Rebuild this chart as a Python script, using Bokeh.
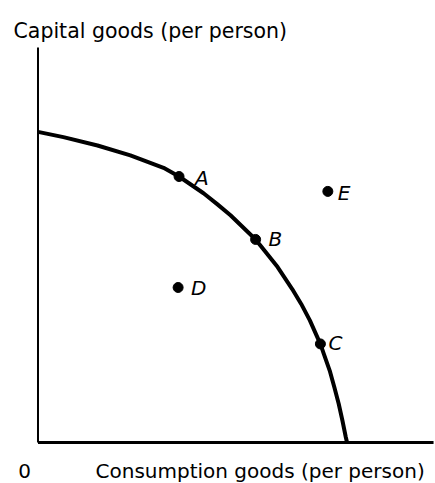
from bokeh.plotting import figure
from bokeh.models import Range1d, ColumnDataSource
from bokeh.core.properties import value
from bokeh.embed import file_html
from bokeh.resources import INLINE

# PPF curve points (consumption, capital)
curve_x = [0.0, 0.82, 1.92, 2.98, 4.05, 4.55, 5.34, 5.78, 6.21, 7.02, 7.73, 8.20, 8.49, 8.77,
           9.01, 9.11, 9.22, 9.41, 9.56, 9.70, 9.82, 9.93, 9.97]
curve_y = [10.02, 9.85, 9.58, 9.26, 8.86, 8.58, 8.04, 7.69, 7.33, 6.55, 5.66, 4.95, 4.47, 3.94,
           3.40, 3.18, 2.86, 2.32, 1.78, 1.25, 0.71, 0.17, 0.0]

# labelled points
point_names = ["A", "B", "C", "D", "E"]
point_x = [4.55, 7.02, 9.11, 4.52, 9.35]
point_y = [8.58, 6.55, 3.18, 5.00, 8.10]

# axis extents
x_axis_max = 12.76
y_axis_max = 12.74

x_title = "Consumption goods (per person)"
y_title = "Capital goods (per person)"
origin_label = "0"

# label offsets in screen pixels (layout)
label_dx = [16, 13, 8, 13, 10]
label_dy = [1, 0, -1, 1, 2]

W, H = 435, 483
p = figure(width=W, height=H, output_backend="svg", toolbar_location=None,
           x_range=Range1d(-1.2097, 12.823), y_range=Range1d(-1.3226, 14.258),
           min_border=0, outline_line_color=None)
p.axis.visible = False
p.grid.visible = False
p.background_fill_color = "white"
p.border_fill_color = "white"

# axes as lines
p.line([0, 0], [0, y_axis_max], line_color="black", line_width=2)
p.line([0, x_axis_max], [0, 0], line_color="black", line_width=3)

# curve
p.line(curve_x, curve_y, line_color="black", line_width=4, line_join="round")

src = ColumnDataSource(dict(x=point_x, y=point_y, t=point_names, dx=label_dx, dy=label_dy))
p.scatter("x", "y", source=src, size=10, color="black")
p.text("x", "y", text="t", source=src, x_offset="dx", y_offset="dy",
       text_font=value("DejaVu Sans"), text_font_style="italic", text_font_size="20px",
       text_baseline="alphabetic", text_align="left", text_color="black")

p.text([-0.79], [13.29], text=[y_title], text_font=value("DejaVu Sans"), text_font_size="20.5px",
       text_baseline="alphabetic", text_align="left", text_color="black")
p.text([1.855], [-0.935], text=[x_title], text_font=value("DejaVu Sans"), text_font_size="20px",
       text_baseline="alphabetic", text_align="left", text_color="black")
p.text([-0.435], [-0.935], text=[origin_label], text_font=value("DejaVu Sans"), text_font_size="20px",
       text_baseline="alphabetic", text_align="center", text_color="black")

open("out.html", "w").write(file_html(p, INLINE))
